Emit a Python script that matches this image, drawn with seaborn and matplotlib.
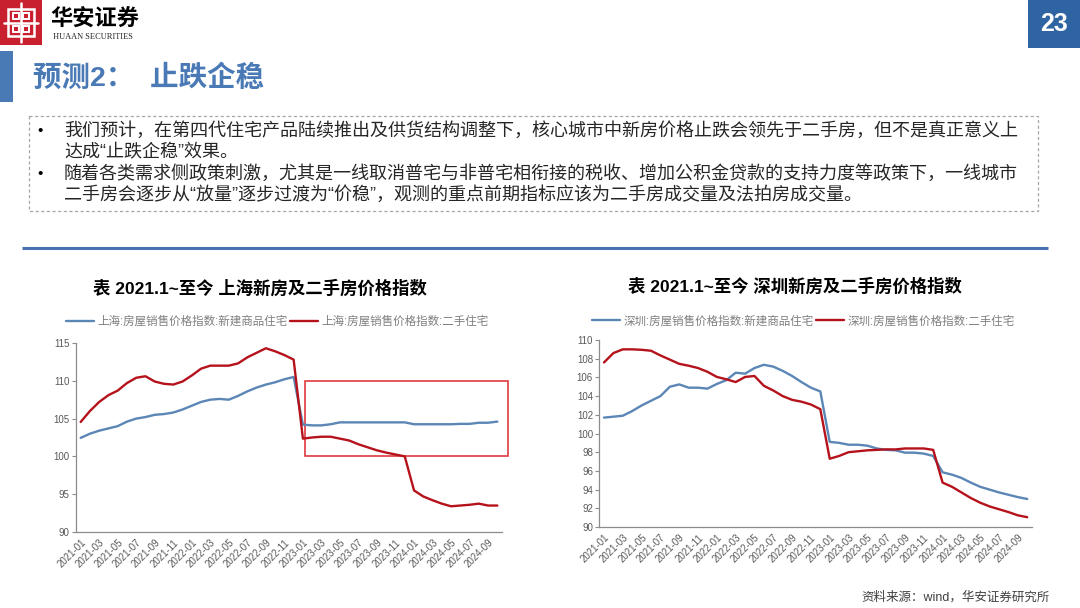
import numpy as np
import pandas as pd
import matplotlib
matplotlib.use("Agg")
import matplotlib.pyplot as plt
import matplotlib.patches as mpatches
import seaborn as sns

# monthly index, 2021-01 .. 2024-10
months = pd.date_range("2021-01-01", "2024-10-01", freq="MS").strftime("%Y-%m").tolist()

sh_new = [102.45, 103.0, 103.4, 103.7, 104.0, 104.6, 105.0, 105.2, 105.5, 105.6,
          105.8, 106.2, 106.7, 107.2, 107.5, 107.6, 107.5, 108.0, 108.6, 109.1,
          109.5, 109.8, 110.2, 110.5, 104.2, 104.1, 104.1, 104.25, 104.5, 104.5,
          104.5, 104.5, 104.5, 104.5, 104.5, 104.5, 104.25, 104.25, 104.25, 104.25,
          104.25, 104.3, 104.3, 104.45, 104.45, 104.6]
sh_used = [104.55, 106.0, 107.2, 108.1, 108.7, 109.7, 110.4, 110.6, 109.9, 109.6,
           109.5, 109.9, 110.7, 111.6, 112.0, 112.0, 112.0, 112.3, 113.1, 113.7,
           114.3, 113.9, 113.4, 112.8, 102.35, 102.5, 102.6, 102.6, 102.35, 102.1,
           101.6, 101.2, 100.8, 100.5, 100.25, 100.0, 95.5, 94.7, 94.2, 93.75,
           93.4, 93.5, 93.6, 93.75, 93.5, 93.5]
sz_new = [101.7, 101.8, 101.9, 102.4, 103.0, 103.5, 104.0, 105.0, 105.25, 104.9,
          104.9, 104.8, 105.3, 105.7, 106.5, 106.4, 107.0, 107.35, 107.15, 106.7,
          106.15, 105.5, 104.9, 104.5, 99.1, 99.0, 98.8, 98.8, 98.7, 98.4,
          98.25, 98.2, 97.95, 97.95, 97.85, 97.6, 95.85, 95.6, 95.25, 94.75,
          94.3, 94.0, 93.7, 93.45, 93.2, 93.0]
sz_used = [107.6, 108.6, 109.0, 109.0, 108.95, 108.85, 108.35, 107.9, 107.45, 107.25,
           107.0, 106.6, 106.05, 105.8, 105.5, 106.05, 106.15, 105.1, 104.6, 104.0,
           103.6, 103.4, 103.1, 102.6, 97.3, 97.6, 98.0, 98.1, 98.2, 98.25,
           98.3, 98.3, 98.4, 98.4, 98.4, 98.25, 94.75, 94.3, 93.7, 93.1,
           92.6, 92.2, 91.9, 91.6, 91.25, 91.05]

sh_labels = ["上海:房屋销售价格指数:新建商品住宅", "上海:房屋销售价格指数:二手住宅"]
sz_labels = ["深圳:房屋销售价格指数:新建商品住宅", "深圳:房屋销售价格指数:二手住宅"]

bullets = [
    "我们预计，在第四代住宅产品陆续推出及供货结构调整下，核心城市中新房价格止跌会领先于二手房，但不是真正意义上\n达成“止跌企稳”效果。",
    "随着各类需求侧政策刺激，尤其是一线取消普宅与非普宅相衔接的税收、增加公积金贷款的支持力度等政策下，一线城市\n二手房会逐步从“放量”逐步过渡为“价稳”，观测的重点前期指标应该为二手房成交量及法拍房成交量。",
]

sns.set_theme(style="white")
plt.rcParams["font.family"] = ["Liberation Sans", "Noto Sans CJK SC", "DejaVu Sans"]

BLUE = "#5B86B6"
RED = "#B5121B"
GRAY = "#595959"
AXC = "#8C8C8C"

fig = plt.figure(figsize=(10.8, 6.08), dpi=100)

# background layer in pixel coordinates for slide decorations
bg = fig.add_axes([0, 0, 1, 1])
bg.set_xlim(0, 1080)
bg.set_ylim(608, 0)
bg.axis("off")

# logo
bg.add_patch(mpatches.Rectangle((0, 0), 42, 45, color="#C8202F", lw=0))
bg.add_patch(mpatches.Rectangle((8, 9), 26, 27, fill=False, ec="white", lw=1.8))
bg.add_patch(mpatches.Rectangle((13, 13), 6, 6, fill=False, ec="white", lw=1.4))
bg.add_patch(mpatches.Rectangle((23, 13), 6, 6, fill=False, ec="white", lw=1.4))
bg.add_patch(mpatches.Rectangle((13, 26), 6, 6, fill=False, ec="white", lw=1.4))
bg.add_patch(mpatches.Rectangle((23, 26), 6, 6, fill=False, ec="white", lw=1.4))
bg.plot([21, 21], [3, 42], color="white", lw=1.8)
bg.plot([4, 38], [22.5, 22.5], color="white", lw=1.8)
bg.text(50, 19, "华安证券", fontsize=16, fontweight="bold", color="black",
        va="center", ha="left", family=["Noto Sans CJK SC"])
bg.text(53, 37, "HUAAN SECURITIES", fontsize=6, color="#222222",
        va="center", ha="left", family=["Liberation Serif"])

# page number
bg.add_patch(mpatches.Rectangle((1028, 0), 52, 48, color="#2E64A2", lw=0))
bg.text(1054, 24, "23", fontsize=18, fontweight="bold", color="white",
        ha="center", va="center")

# slide title
bg.add_patch(mpatches.Rectangle((0, 51), 13, 51, color="#4A7AB5", lw=0))
bg.text(33, 78, "预测2：  止跌企稳", fontsize=20.5, fontweight="bold", color="#4A7AB5",
        ha="left", va="center")

# bullet box
bg.add_patch(mpatches.Rectangle((29, 116), 1009, 95, fill=False, ec="#A6A6A6",
                                lw=0.9, ls=(0, (2.5, 2))))
for txt, y in zip(bullets, [131, 174]):
    bg.text(40, y, "•", fontsize=11, color="black", ha="center", va="center")
    bg.text(64, y - 9, txt, fontsize=13, color="#262626", ha="left", va="top",
            linespacing=1.25)

# separator
bg.plot([22, 1048], [247.5, 247.5], color="#4A72B0", lw=2.2, solid_capstyle="butt")

# chart titles
bg.text(260, 288, "表 2021.1~至今 上海新房及二手房价格指数", fontsize=12.5,
        fontweight="bold", color="black", ha="center", va="center")
bg.text(795, 286, "表 2021.1~至今 深圳新房及二手房价格指数", fontsize=12.5,
        fontweight="bold", color="black", ha="center", va="center")

# source
bg.text(1050, 597, "资料来源：wind，华安证券研究所", fontsize=9, color="#404040",
        ha="right", va="center")

x = np.arange(len(months))


def draw(ax, new, used, labels, ylim, ystep, leg_xy):
    sns.lineplot(x=x, y=new, ax=ax, color=BLUE, linewidth=1.7, label=labels[0])
    sns.lineplot(x=x, y=used, ax=ax, color=RED, linewidth=1.7, label=labels[1])
    ax.set_facecolor("none")
    ax.set_xlim(-0.5, len(months) - 0.5)
    ax.set_ylim(*ylim)
    ax.set_yticks(np.arange(ylim[0], ylim[1] + 0.1, ystep))
    ax.set_xticks(x[::2])
    ax.set_xticklabels(months[::2], rotation=45, ha="right", rotation_mode="anchor")
    ax.set_xticks(np.arange(-0.5, len(months), 2), minor=True)
    ax.tick_params(axis="x", which="major", length=0, pad=4, labelsize=7, labelcolor=GRAY)
    ax.tick_params(axis="x", which="minor", length=3, width=0.8, color=AXC, direction="out")
    ax.tick_params(axis="y", length=3, width=0.8, color=AXC, direction="out",
                   pad=1.5, labelsize=7, labelcolor=GRAY, left=True)
    for s in ["top", "right"]:
        ax.spines[s].set_visible(False)
    for s in ["left", "bottom"]:
        ax.spines[s].set_color(AXC)
        ax.spines[s].set_linewidth(0.9)
    ax.set_xlabel("")
    ax.set_ylabel("")
    ax.legend(loc="center", bbox_to_anchor=leg_xy, ncol=2, frameon=False,
              fontsize=8.3, handlelength=2.4, handletextpad=0.3, columnspacing=0.2,
              labelcolor="#7F7F7F")


ax1 = fig.add_axes([0.0704, 0.125, 0.3944, 0.3109])
draw(ax1, sh_new, sh_used, sh_labels, (90, 115), 5, (0.473, 1.111))

# highlight box on the Shanghai chart: 2023-01 onward, index 100-110
box_x0 = months.index("2023-01") + 0.2
ax1.add_patch(mpatches.Rectangle((box_x0, 100), len(months) + 0.2 - box_x0, 10,
                                 fill=False, ec="#E0393E", lw=1.2, clip_on=False))

ax2 = fig.add_axes([0.5549, 0.1332, 0.4006, 0.3076])
draw(ax2, sz_new, sz_used, sz_labels, (90, 110), 2, (0.472, 1.10))

fig.savefig("out.png", dpi=100)
